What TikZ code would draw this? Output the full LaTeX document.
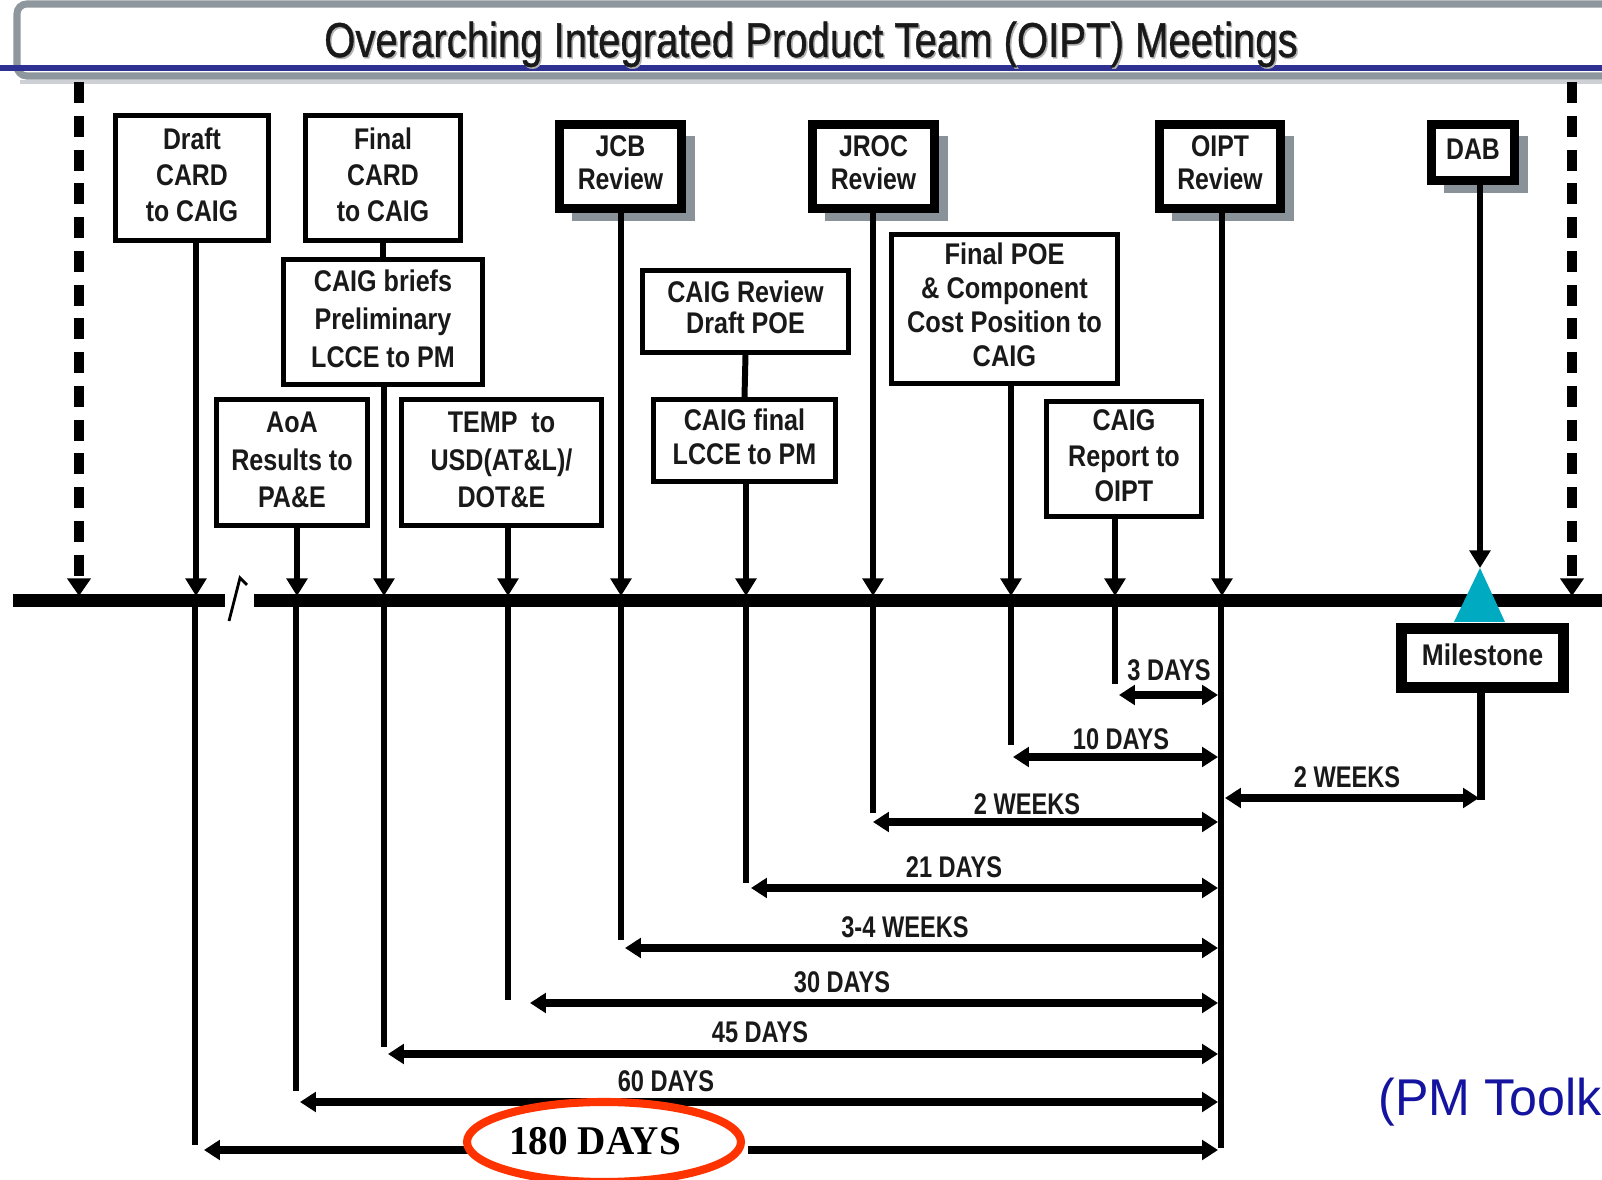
\documentclass[tikz,border=0pt]{standalone}
\usepackage{fontspec}
\setmainfont{Liberation Sans}
\newfontfamily\serifb{Liberation Serif}
\newfontfamily\titlef[FakeBold=0.9]{Liberation Sans}
\usetikzlibrary{arrows.meta,shadows}
\definecolor{shgray}{RGB}{138,146,153}
\definecolor{hdgray}{RGB}{143,151,158}
\definecolor{hdlight}{RGB}{205,209,213}
\definecolor{hdblue}{RGB}{46,49,146}
\definecolor{tealm}{RGB}{0,170,192}
\definecolor{redov}{RGB}{255,51,0}
\definecolor{tkblue}{RGB}{20,20,160}
\definecolor{txt}{RGB}{25,25,25}
\newcommand{\bx}[3]{\scalebox{#1}[1]{\fontsize{8.5}{#2}\bfseries\selectfont\begin{tabular}{@{}c@{}}#3\end{tabular}}}
\newcommand{\dl}[1]{\scalebox{0.79}[1]{#1}}
\tikzset{
 box/.style={draw, line width=1.4pt, fill=white, inner sep=0pt, text=txt},
 sbox/.style={draw, line width=2.6pt, fill=white, inner sep=0pt, text=txt,
   drop shadow={shadow xshift=0.13cm, shadow yshift=-0.12cm, fill=shgray, opacity=1}},
 varr/.style={line width=1.7pt, -{Triangle[width=5.8pt,length=5pt]}},
 dsh/.style={line width=2.6pt, dash pattern=on 6pt off 3.6pt, -{Triangle[width=6.5pt,length=5pt]}},
 vln/.style={line width=1.6pt},
 darr/.style={line width=2pt, {Triangle[width=5.5pt,length=4.5pt]}-{Triangle[width=5.5pt,length=4.5pt]}},
 dlab/.style={anchor=base, inner sep=0pt, text=txt, font=\fontsize{8.5}{10}\bfseries\selectfont},
}
\begin{document}
\begin{tikzpicture}[x=0.01cm,y=-0.01cm]
\useasboundingbox (0,0) rectangle (1602,1180);
\clip (0,0) rectangle (1602,1180);
\fill[white] (0,0) rectangle (1602,1180);

% header
\draw[hdlight, line width=1.2pt] (20,82) -- (1602,82);
\draw[hdgray, line width=2pt, rounded corners=2.8pt] (17,4) rectangle (1660,76);
\draw[hdblue, line width=1.5pt] (0,68) -- (1602,68);
\node[anchor=base, inner sep=0pt, text=gray!60, font=\titlef\fontsize{13.9}{16}\selectfont] (titlesh) at (812.5,58.5) {\scalebox{0.82}[1]{Overarching Integrated Product Team (OIPT) Meetings}};
\node[anchor=base, inner sep=0pt, text=txt, font=\titlef\fontsize{13.9}{16}\selectfont] (title) at (811,57) {\scalebox{0.82}[1]{Overarching Integrated Product Team (OIPT) Meetings}};

% timeline coordinates
\coordinate (tLd) at (79,596);
\coordinate (tRd) at (1572,596);
\coordinate (tLd0) at (79,82);
\coordinate (tRd0) at (1572,82);
\coordinate (tDraft) at (196,596);
\coordinate (tAoA) at (297,596);
\coordinate (tBr) at (384,596);
\coordinate (tTemp) at (508,596);
\coordinate (tJcb) at (621,596);
\coordinate (tCf) at (746,596);
\coordinate (tJroc) at (873,596);
\coordinate (tPoe) at (1011,596);
\coordinate (tRep) at (1115,596);
\coordinate (tOipt) at (1222,596);
\coordinate (apex) at (1480,568);

% below timeline verticals
\coordinate (b180) at (195,601); \coordinate (e180) at (195,1145);
\coordinate (b60) at (296,601);  \coordinate (e60) at (296,1091);
\coordinate (b45) at (384,601);  \coordinate (e45) at (384,1047);
\coordinate (b30) at (508,601);  \coordinate (e30) at (508,1000);
\coordinate (b34) at (621,601);  \coordinate (e34) at (621,940);
\coordinate (b21) at (746,601);  \coordinate (e21) at (746,883);
\coordinate (b2w) at (873,601);  \coordinate (e2w) at (873,813);
\coordinate (b10) at (1011,601); \coordinate (e10) at (1011,745);
\coordinate (b3) at (1115,601);  \coordinate (e3) at (1115,684);
\coordinate (bO) at (1221,601);  \coordinate (eO) at (1221,1148);
\foreach \a/\b in {b180/e180,b60/e60,b45/e45,b30/e30,b34/e34,b21/e21,b2w/e2w,b10/e10,b3/e3}
  \draw[vln] (\a) -- (\b);
\draw[line width=1.7pt] (bO) -- (eO);

% duration arrows
\coordinate (l180) at (204,1150);  \coordinate (r180) at (1218,1150);
\coordinate (l60) at (300,1102);   \coordinate (r60) at (1218,1102);
\coordinate (l45) at (388,1054);   \coordinate (r45) at (1218,1054);
\coordinate (l30) at (530,1003);   \coordinate (r30) at (1218,1003);
\coordinate (l34) at (625,948);    \coordinate (r34) at (1218,948);
\coordinate (l21) at (751,888);    \coordinate (r21) at (1218,888);
\coordinate (l2w) at (873,822);    \coordinate (r2w) at (1218,822);
\coordinate (l10) at (1013,757);   \coordinate (r10) at (1218,757);
\coordinate (l3) at (1119,695);    \coordinate (r3) at (1218,695);
\coordinate (lM) at (1225,798);    \coordinate (rM) at (1479,798);
\foreach \a/\b in {l180/r180,l60/r60,l45/r45,l30/r30,l34/r34,l21/r21,l2w/r2w,l10/r10,l3/r3,lM/rM}
  \draw[darr] (\a) -- (\b);

% labels
\node[dlab] (lab3) at (1169,681) {\dl{3 DAYS}};
\node[dlab] (lab10) at (1121,750) {\dl{10 DAYS}};
\node[dlab] (lab2w) at (1027,815) {\dl{2 WEEKS}};
\node[dlab] (lab21) at (954,878) {\dl{21 DAYS}};
\node[dlab] (lab34) at (905,938) {\dl{3-4 WEEKS}};
\node[dlab] (lab30) at (842,993) {\dl{30 DAYS}};
\node[dlab] (lab45) at (760,1043) {\dl{45 DAYS}};
\node[dlab] (lab60) at (666,1092) {\dl{60 DAYS}};
\node[dlab] (labM) at (1347,788) {\dl{2 WEEKS}};

% 180 days highlight
\fill[white] (483,1106) rectangle (748,1185);
\draw[redov, line width=2.3pt, fill=white] (604,1142) ellipse [x radius=137, y radius=40];
\node[anchor=base, inner sep=0pt, font=\serifb\fontsize{11.6}{14}\bfseries\selectfont] (lab180) at (595,1155) {\scalebox{0.96}[1]{180 DAYS}};

% dashed boundaries
\draw[dsh] (tLd0) -- (tLd);
\draw[dsh] (tRd0) -- (tRd);

% boxes
\node[box, minimum width=1.53cm, minimum height=1.25cm] (draft) at (192,178) {\bx{0.83}{10.3}{Draft\\CARD\\to CAIG}};
\node[box, minimum width=1.54cm, minimum height=1.25cm] (fcard) at (383,178) {\bx{0.83}{10.3}{Final\\CARD\\to CAIG}};
\node[box, minimum width=1.99cm, minimum height=1.25cm] (briefs) at (383,322) {\bx{0.84}{10.7}{CAIG briefs\\Preliminary\\LCCE to PM}};
\node[box, minimum width=1.51cm, minimum height=1.26cm] (aoa) at (292,462.5) {\bx{0.84}{10.7}{AoA\\Results to\\PA\&E}};
\node[box, minimum width=2.00cm, minimum height=1.26cm] (temp) at (501.5,462.5) {\bx{0.84}{10.7}{TEMP~ to\\USD(AT\&L)/\\DOT\&E}};
\node[sbox, minimum width=1.22cm, minimum height=0.84cm] (jcb) at (620.5,166.5) {\bx{0.83}{9.4}{JCB\\Review}};
\node[box, minimum width=2.06cm, minimum height=0.82cm] (crev) at (745.5,311.5) {\bx{0.84}{8.8}{CAIG Review\\Draft POE}};
\node[box, minimum width=1.82cm, minimum height=0.82cm] (cfin) at (744.5,440.5) {\bx{0.84}{9.8}{CAIG final\\LCCE to PM}};
\node[sbox, minimum width=1.22cm, minimum height=0.84cm] (jroc) at (873.5,166.5) {\bx{0.83}{9.4}{JROC\\Review}};
\node[box, minimum width=2.26cm, minimum height=1.49cm] (fpoe) at (1004.5,309) {\bx{0.85}{9.7}{Final POE\\\& Component\\Cost Position to\\CAIG}};
\node[box, minimum width=1.55cm, minimum height=1.15cm] (crep) at (1124,459) {\bx{0.84}{10.1}{CAIG\\Report to\\OIPT}};
\node[sbox, minimum width=1.21cm, minimum height=0.84cm] (oipt) at (1220,166.5) {\bx{0.83}{9.4}{OIPT\\Review}};
\node[sbox, minimum width=0.83cm, minimum height=0.56cm] (dab) at (1473,152.5) {\bx{0.83}{9.4}{DAB}};

% connectors above timeline
\draw[varr] (tDraft |- draft.south) -- (tDraft);
\draw[line width=1.7pt] (fcard.south) -- (briefs.north);
\draw[varr] (tBr |- briefs.south) -- (tBr);
\draw[varr] (tAoA |- aoa.south) -- (tAoA);
\draw[varr] (tTemp |- temp.south) -- (tTemp);
\draw[varr] (tJcb |- jcb.south) -- (tJcb);
\draw[line width=1.7pt] (crev.south) -- (cfin.north);
\draw[varr] (tCf |- cfin.south) -- (tCf);
\draw[varr] (tJroc |- jroc.south) -- (tJroc);
\draw[varr] (tPoe |- fpoe.south) -- (tPoe);
\draw[varr] (tRep |- crep.south) -- (tRep);
\draw[varr] (tOipt |- oipt.south) -- (tOipt);

% timeline
\coordinate (tl0) at (13,601); \coordinate (tl1) at (225,601);
\coordinate (tl2) at (254,601); \coordinate (tl3) at (1602,601);
\draw[line width=3.7pt] (tl0) -- (tl1);
\draw[line width=3.7pt] (tl2) -- (tl3);
\coordinate (bk0) at (229,621); \coordinate (bk1) at (240,578); \coordinate (bk2) at (247,585);
\draw[line width=0.8pt] (bk0) -- (bk1) -- (bk2);

% milestone marker
\coordinate (tri1) at (1505,622); \coordinate (tri2) at (1454,622);
\fill[tealm] (apex) -- (tri1) -- (tri2) -- cycle;
\draw[varr] (apex |- dab.south) -- (apex);
\node[draw, line width=3.1pt, fill=white, inner sep=0pt, text=txt, minimum width=1.62cm, minimum height=0.59cm] (mile) at (1482.5,658) {\bx{0.88}{10}{Milestone}};
\coordinate (mEnd) at (1481,800);
\draw[line width=2pt] (mile.south -| mEnd) -- (mEnd);

% source note
\node[anchor=base west, inner sep=0pt, text=tkblue, font=\fontsize{14.7}{17}\selectfont] (src) at (1378,1116) {\scalebox{0.97}[1]{(PM Toolk}};
\end{tikzpicture}
\end{document}
